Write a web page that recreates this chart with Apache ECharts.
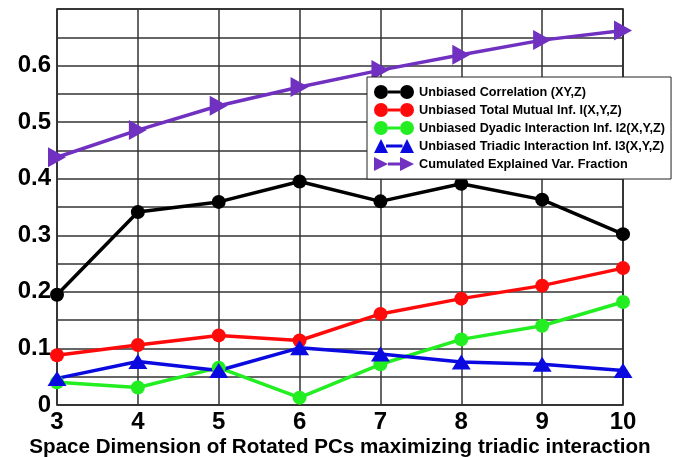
<!DOCTYPE html>
<html>
<head>
<meta charset="UTF-8">
<title>Rotated PCs triadic interaction</title>
<style>
  body { margin: 0; background: #fff; }
  #chart { width: 679px; height: 457px; }
</style>
<script src="https://cdn.jsdelivr.net/npm/echarts@6/dist/echarts.min.js"></script>
</head>
<body>
<div id="chart"></div>
<script>
// data
const dims = [3, 4, 5, 6, 7, 8, 9, 10];
const correlation = [0.195, 0.341, 0.359, 0.395, 0.360, 0.391, 0.363, 0.302];
const totalMutual = [0.088, 0.106, 0.123, 0.114, 0.161, 0.188, 0.211, 0.242];
const dyadic = [0.040, 0.031, 0.066, 0.013, 0.072, 0.116, 0.140, 0.182];
const triadic = [0.047, 0.077, 0.061, 0.101, 0.090, 0.076, 0.072, 0.061];
const explainedVar = [0.438, 0.486, 0.529, 0.562, 0.592, 0.619, 0.645, 0.662];

const names = [
  'Unbiased Correlation (XY,Z)',
  'Unbiased Total Mutual Inf. I(X,Y,Z)',
  'Unbiased Dyadic Interaction Inf. I2(X,Y,Z)',
  'Unbiased Triadic Interaction Inf. I3(X,Y,Z)',
  'Cumulated Explained Var. Fraction'
];

// legend icons: marker - line - marker, like the original legend
// (pieces must not overlap, otherwise the fill leaves holes)
const circleIcon = 'path://M0,7 A7,7 0 1,0 14,7 A7,7 0 1,0 0,7 Z M26,7 A7,7 0 1,0 40,7 A7,7 0 1,0 26,7 Z M14,5.5 L26,5.5 L26,8.5 L14,8.5 Z';
const triIcon = 'path://M7,0 L14,14 L0,14 Z M33,0 L40,14 L26,14 Z M12,5.5 L28.5,5.5 L28.5,8.5 L12,8.5 Z';
const arrowIcon = 'path://M0,0 L14,7 L0,14 Z M26,0 L40,7 L26,14 Z M14,5.5 L26,5.5 L26,8.5 L14,8.5 Z';

const pairs = arr => dims.map((d, i) => [d, arr[i]]);

const mkSeries = (name, arr, color, symbol, size, rotate) => ({
  name: name,
  type: 'line',
  data: pairs(arr),
  symbol: symbol,
  symbolSize: size,
  symbolRotate: rotate || 0,
  clip: false,
  lineStyle: { color: color, width: 3.5 },
  itemStyle: { color: color }
});

const chart = echarts.init(document.getElementById('chart'));
chart.setOption({
  animation: false,
  textStyle: { fontFamily: 'Liberation Sans, Arial, sans-serif' },
  grid: {
    left: 57, right: 56, top: 9, bottom: 52,
    outerBoundsMode: 'none',
    show: true, borderColor: '#000', borderWidth: 1.5, backgroundColor: '#fff'
  },
  legend: {
    left: 367, top: 77,
    orient: 'vertical',
    backgroundColor: '#fff',
    borderColor: '#222', borderWidth: 1,
    padding: [8, 6, 8, 7],
    itemWidth: 40, itemHeight: 14, itemGap: 4,
    textStyle: { fontSize: 12.7, fontWeight: 'bold', color: '#000' },
    data: [
      { name: names[0], icon: circleIcon },
      { name: names[1], icon: circleIcon },
      { name: names[2], icon: circleIcon },
      { name: names[3], icon: triIcon },
      { name: names[4], icon: arrowIcon }
    ]
  },
  xAxis: {
    type: 'value', min: 3, max: 10, interval: 1,
    name: 'Space Dimension of Rotated PCs maximizing triadic interaction',
    nameLocation: 'middle', nameGap: 32,
    nameMoveOverlap: false,
    nameTextStyle: { fontSize: 20.6, fontWeight: 'bold', color: '#000' },
    axisLine: { show: false },
    axisTick: { show: false },
    axisLabel: { fontSize: 24, fontWeight: 'bold', color: '#000', margin: 5 },
    splitLine: { show: true, lineStyle: { color: '#333', width: 1.5 } }
  },
  yAxis: {
    type: 'value', min: 0, max: 0.7, interval: 0.05,
    axisLine: { show: false },
    axisTick: { show: false },
    axisLabel: {
      fontSize: 24, fontWeight: 'bold', color: '#000', margin: 6,
      formatter: v => {
        const k = Math.round(v * 100);
        if (k % 10 !== 0 || k === 70) return '';
        return k === 0 ? '0' : (k / 100).toString();
      }
    },
    splitLine: { show: true, lineStyle: { color: '#333', width: 1.5 } }
  },
  series: [
    mkSeries(names[0], correlation, '#000000', 'circle', 14),
    mkSeries(names[1], totalMutual, '#ff0a0a', 'circle', 14),
    mkSeries(names[2], dyadic, '#22ee22', 'circle', 14),
    mkSeries(names[3], triadic, '#0a0ae0', 'triangle', [19, 15]),
    mkSeries(names[4], explainedVar, '#7030c0', 'triangle', [20, 18], -90)
  ]
});
</script>
</body>
</html>
